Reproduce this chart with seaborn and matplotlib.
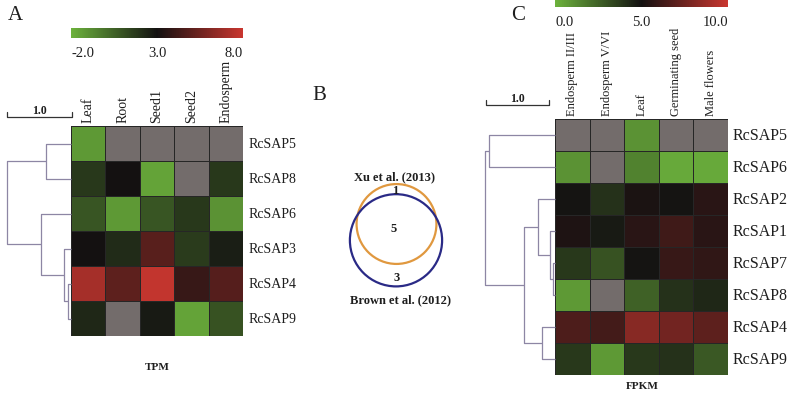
import numpy as np
import pandas as pd
import matplotlib
matplotlib.use("Agg")
import matplotlib.pyplot as plt
from matplotlib.colors import LinearSegmentedColormap, ListedColormap
from matplotlib.patches import Circle
import seaborn as sns

sns.set_style("white")
plt.rcParams["font.family"] = ["Liberation Serif", "DejaVu Serif"]

# ---------------- data ----------------
tpm_genes = ["RcSAP5", "RcSAP8", "RcSAP6", "RcSAP3", "RcSAP4", "RcSAP9"]
tpm_tissues = ["Leaf", "Root", "Seed1", "Seed2", "Endosperm"]
tpm_sap5 = [-1.2, np.nan, np.nan, np.nan, np.nan]
tpm_sap8 = [1.8, 3.0, -1.5, np.nan, 1.8]
tpm_sap6 = [0.9, -1.2, 0.9, 1.8, -1.0]
tpm_sap3 = [3.0, 2.2, 4.9, 1.7, 2.6]
tpm_sap4 = [7.0, 5.0, 7.8, 4.0, 4.8]
tpm_sap9 = [2.3, np.nan, 2.7, -1.5, 1.0]
tpm_ticks = [-2.0, 3.0, 8.0]
tpm_tree = [("RcSAP5", "RcSAP8", 0.39), ("RcSAP4", "RcSAP9", 0.05),
            ("RcSAP3", "m1", 0.11), ("RcSAP6", "m2", 0.47), ("m0", "m3", 1.0)]

fpkm_genes = ["RcSAP5", "RcSAP6", "RcSAP2", "RcSAP1", "RcSAP7", "RcSAP8", "RcSAP4", "RcSAP9"]
fpkm_tissues = ["Endosperm II/III", "Endosperm V/VI", "Leaf", "Germinating seed", "Male flowers"]
fpkm_sap5 = [np.nan, np.nan, 1.0, np.nan, np.nan]
fpkm_sap6 = [1.0, np.nan, 1.5, 0.3, 0.3]
fpkm_sap2 = [4.9, 4.0, 5.2, 4.9, 5.6]
fpkm_sap1 = [5.3, 4.7, 5.6, 6.2, 5.6]
fpkm_sap7 = [3.8, 3.0, 4.9, 6.0, 5.8]
fpkm_sap8 = [0.8, np.nan, 2.5, 4.0, 4.3]
fpkm_sap4 = [6.6, 6.3, 8.2, 7.6, 7.0]
fpkm_sap9 = [3.8, 0.8, 3.8, 4.0, 2.8]
fpkm_ticks = [0.0, 5.0, 10.0]
fpkm_tree = [("RcSAP5", "RcSAP6", 1.04), ("RcSAP7", "RcSAP8", 0.03),
             ("RcSAP1", "m1", 0.08), ("RcSAP2", "m2", 0.27),
             ("RcSAP4", "RcSAP9", 0.21), ("m3", "m4", 0.49), ("m0", "m5", 1.11)]

venn_only_xu = 1
venn_both = 5
venn_only_brown = 3
venn_labels = ["Xu et al. (2013)", "Brown et al. (2012)"]

tpm = pd.DataFrame([tpm_sap5, tpm_sap8, tpm_sap6, tpm_sap3, tpm_sap4, tpm_sap9],
                   index=tpm_genes, columns=tpm_tissues)
fpkm = pd.DataFrame([fpkm_sap5, fpkm_sap6, fpkm_sap2, fpkm_sap1, fpkm_sap7,
                     fpkm_sap8, fpkm_sap4, fpkm_sap9],
                    index=fpkm_genes, columns=fpkm_tissues)

# ---------------- style ----------------
W, H = 787, 406
fig = plt.figure(figsize=(W / 100, H / 100), dpi=100)
cmap = LinearSegmentedColormap.from_list("gbr", ["#6cb23c", "#131111", "#c9362f"])
nan_cmap = ListedColormap(["#736c6b"])
dendro_color = "#8d86a4"
txt_color = "#1e1e1e"
grid_color = "#262626"


def px_axes(x0, y0, x1, y1):
    return fig.add_axes([x0 / W, 1 - y1 / H, (x1 - x0) / W, (y1 - y0) / H])


def draw_heat(df, box, cbox, vmin, vmax, ticks, col_fs, row_fs, row_pad):
    ax = px_axes(*box)
    cax = px_axes(*cbox)
    isna = df.isna()
    sns.heatmap(isna.astype(float), mask=~isna, cmap=nan_cmap, cbar=False,
                linewidths=0.7, linecolor=grid_color, ax=ax)
    sns.heatmap(df, cmap=cmap, vmin=vmin, vmax=vmax, ax=ax, cbar_ax=cax,
                linewidths=0.7, linecolor=grid_color,
                cbar_kws={"orientation": "horizontal", "ticks": ticks})
    ax.xaxis.tick_top()
    ax.yaxis.tick_right()
    ax.set_xlabel("")
    ax.set_ylabel("")
    ax.set_xticklabels(df.columns, rotation=90, fontsize=col_fs, color=txt_color)
    ax.set_yticklabels(df.index, rotation=0, fontsize=row_fs, color=txt_color, va="center")
    ax.tick_params(axis="x", length=0, pad=3)
    ax.tick_params(axis="y", length=0, pad=row_pad)
    for s in ax.spines.values():
        s.set_visible(False)
    cb = ax.collections[-1].colorbar
    cb.outline.set_visible(False)
    cb.set_ticks(ticks)
    cb.set_ticklabels([f"{t:.1f}" for t in ticks])
    cax.tick_params(length=0, pad=6, labelsize=10.5, labelcolor=txt_color)
    for lab, ha in zip(cax.get_xticklabels(), ["left", "center", "right"]):
        lab.set_ha(ha)
    return ax


def draw_dendro(box, rows, tree, top):
    ax = px_axes(*box)
    pos = {g: i + 0.5 for i, g in enumerate(rows)}
    hgt = {g: 0.0 for g in rows}
    for k, (a, b, h) in enumerate(tree):
        ax.plot([hgt[a], h, h, hgt[b]], [pos[a], pos[a], pos[b], pos[b]],
                color=dendro_color, lw=0.9, clip_on=False, solid_capstyle="butt")
        pos[f"m{k}"] = (pos[a] + pos[b]) / 2
        hgt[f"m{k}"] = h
    ax.set_xlim(top, 0)
    ax.set_ylim(len(rows), 0)
    ax.axis("off")
    return ax


# Panel A
draw_heat(tpm, (71, 127, 243, 337), (71, 29, 243, 39), -2, 8, tpm_ticks, 10, 10, 4)
draw_dendro((7, 127, 71, 337), tpm_genes, tpm_tree, 1.0)

# Panel C
draw_heat(fpkm, (555, 120, 728, 376), (555, -2, 728, 8), 0, 10, fpkm_ticks, 9, 11.5, 3)
draw_dendro((485, 120, 555, 376), fpkm_genes, fpkm_tree, 1.11)

# Overlay for labels, scale bars and Venn
ov = fig.add_axes([0, 0, 1, 1])
ov.set_xlim(0, W)
ov.set_ylim(H, 0)
ov.axis("off")
ov.patch.set_alpha(0)

for lab, x, y in [("A", 15, 15), ("B", 319, 95), ("C", 518, 15)]:
    ov.text(x, y, lab, fontsize=15, ha="center", va="center", color=txt_color)
ov.text(157, 368, "TPM", fontsize=8, fontweight="bold", ha="center", va="center", color=txt_color)
ov.text(642, 387, "FPKM", fontsize=8, fontweight="bold", ha="center", va="center", color=txt_color)

for x0, x1, y in [(7, 72, 118), (486, 549, 106)]:
    ov.plot([x0, x0, x1, x1], [y - 5, y, y, y - 5], color="#333333", lw=0.9)
    ov.text((x0 + x1) / 2, y - 7, "1.0", fontsize=8.5, fontweight="bold",
            ha="center", va="center", color=txt_color)

# Venn circles, radius scaled by set size
k = 16.3
n_xu = venn_only_xu + venn_both
n_brown = venn_only_brown + venn_both
ov.add_patch(Circle((396.5, 225), k * np.sqrt(n_xu), fill=False, ec="#e0983f", lw=1.6))
ov.add_patch(Circle((396, 241.3), k * np.sqrt(n_brown), fill=False, ec="#2a2a86", lw=1.6))
vfs = 9
ov.text(395, 177, venn_labels[0], fontsize=vfs, fontweight="bold", ha="center", va="center", color=txt_color)
ov.text(400, 300, venn_labels[1], fontsize=vfs, fontweight="bold", ha="center", va="center", color=txt_color)
ov.text(395, 191, str(venn_only_xu), fontsize=vfs, fontweight="bold", ha="center", va="center", color=txt_color)
ov.text(393.5, 229, str(venn_both), fontsize=vfs, fontweight="bold", ha="center", va="center", color=txt_color)
ov.text(396.5, 278, str(venn_only_brown), fontsize=vfs, fontweight="bold", ha="center", va="center", color=txt_color)

fig.savefig("out.png", dpi=100)
